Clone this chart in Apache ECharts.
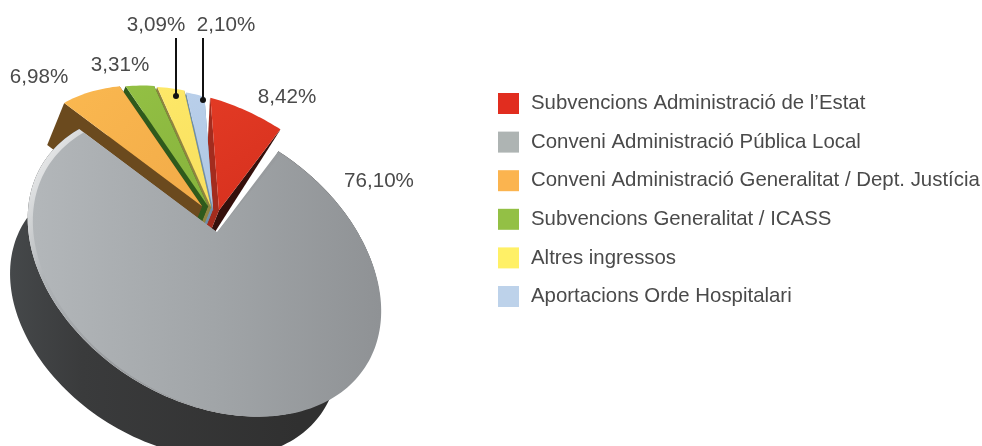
<!DOCTYPE html>
<html><head><meta charset="utf-8">
<style>html,body{margin:0;padding:0;background:#fff}#c{width:982px;height:446px}</style>
<script src="https://cdn.jsdelivr.net/npm/echarts@6/dist/echarts.min.js"></script>
</head><body><div id="c"></div>
<script>
const categories = ['Subvencions Administració de l’Estat','Conveni Administració Pública Local','Conveni Administració Generalitat / Dept. Justícia','Subvencions Generalitat / ICASS','Altres ingressos','Aportacions Orde Hospitalari'];
const shares = [8.42, 76.10, 6.98, 3.31, 3.09, 2.10];

const legendColors = ['#e12d1f','#aeb4b3','#fbb44f','#93c045','#fff066','#bdd2ea'];
const topColors = [['#e23a24','#d6301e'],null,['#fab850','#f2ab48'],['#93c044','#86b23c'],['#fde868','#f8df5e'],['#b9cfea','#aec6e2']];
const edgeLeft = ['#a32c1e','#333','#6b4a1e','#2f5a1c','#8f8440','#6f8fa8'];
const edgeRight = ['#35100c','#333','#6b4a1e','#2f5a1c','#8f8440','#6f8fa8'];
const shift = [[9,6],[7,28],[-8,2],[-2,2],[1,3],[3,5]];
const rimDepth = [0.03,1,1,1,1,1];
const sideOrder = [0,5,4,3,2];
const labelAt = [[287,97],[379,181],[39,77],[120,65],[156,25],[226,25]];
const leaders = {4:[176,38,96],5:[203,38,100]};

const C=[197,236], A=190, B=135, ROT=32*Math.PI/180, P=[-0.03,-0.25], START=-117, E=[-17,42], E_GREY=[-30,52], S_GREY=0.93;
const U=[Math.cos(ROT),Math.sin(ROT)], V=[-Math.sin(ROT),Math.cos(ROT)];
const FONT='"Liberation Sans", Arial, sans-serif';
function project(deg,r){
  const t=deg*Math.PI/180, x=r*Math.cos(t), y=r*Math.sin(t);
  const pp=P[0]*P[0]+P[1]*P[1], dot=P[0]*x+P[1]*y, s=Math.sqrt(1-pp);
  const parx=P[0]*dot/pp, pary=P[1]*dot/pp;
  const nx=(P[0]+parx+s*(x-parx))/(1+dot), ny=(P[1]+pary+s*(y-pary))/(1+dot);
  return [C[0]+A*nx*U[0]+B*ny*V[0], C[1]+A*nx*U[1]+B*ny*V[1]];
}
const cum=[]; shares.reduce((s,v,i)=>{cum[i]=s;return s+v;},0);
const total=shares.reduce((a,b)=>a+b,0);
function fmt(v){return v.toFixed(2).replace('.',',')+'%';}

function geometry(i,v){
  const a0=START+cum[i]/total*360, a1=a0+v/total*360, sh=shift[i];
  const rim=[]; const n=Math.max(6,Math.ceil((a1-a0)/1.5));
  for(let k=0;k<=n;k++){const p=project(a0+(a1-a0)*k/n,1);rim.push([p[0]+sh[0],p[1]+sh[1]]);}
  const ap0=project(0,0);
  return {rim,apex:[ap0[0]+sh[0],ap0[1]+sh[1]],sh};
}
const poly=(points,fill,style)=>({type:'polygon',shape:{points},style:Object.assign({fill},style||{})});

// side walls of the back wedges: drawn below every top face, orange wall last
function renderSide(params,api){
  const i=sideOrder[params.dataIndex], {rim,apex}=geometry(i,api.value(0));
  const d=rimDepth[i], down=(p,m)=>[p[0]+E[0]*m,p[1]+E[1]*m];
  const first=rim[0], last=rim[rim.length-1];
  return {type:'group',children:[
    poly([apex,last,down(last,d),down(apex,1)],edgeRight[i]),
    poly([apex,first,down(first,d),down(apex,1)],edgeLeft[i]),
  ]};
}
function renderer(i){
  return function(params,api){
    const v=api.value(0), {rim,apex,sh}=geometry(i,v), kids=[];
    if(i===1){
      const g={type:'linear',x:10,y:0,x2:300,y2:0,global:true,colorStops:[{offset:0,color:'#45484a'},{offset:.25,color:'#3a3b3c'},{offset:1,color:'#303030'}]};
      const cx=C[0]+sh[0], cy=C[1]+sh[1];
      const low=rim.map(p=>[cx+(p[0]-cx)*S_GREY+E_GREY[0],cy+(p[1]-cy)*S_GREY+E_GREY[1]]);
      kids.push(poly(rim.concat(low.reverse()),g));
      const top=rim.concat([apex]);
      const hi={type:'linear',x:30,y:120,x2:300,y2:300,global:true,colorStops:[{offset:0,color:'#ffffff'},{offset:.3,color:'#b0b4b7'},{offset:.6,color:'#9a9da0'},{offset:1,color:'#94979a'}]};
      kids.push(poly(top,hi));
      const inset=top.map(p=>[p[0]+(cx-p[0])*0.012+3,p[1]+(cy-p[1])*0.012+2]);
      inset[inset.length-1]=apex;
      const body={type:'linear',x:30,y:0,x2:380,y2:0,global:true,colorStops:[{offset:0,color:'#b3b7ba'},{offset:.55,color:'#a0a4a7'},{offset:1,color:'#8f9295'}]};
      kids.push(poly(inset,body));
    } else {
      kids.push(poly([apex].concat(rim),{type:'linear',x:0,y:0,x2:1,y2:1,colorStops:[{offset:0,color:topColors[i][0]},{offset:1,color:topColors[i][1]}]}));
    }
    kids.push({type:'text',style:{text:fmt(v),x:labelAt[i][0],y:labelAt[i][1],align:'center',verticalAlign:'middle',fill:'#4a4a4a',font:'20.6px '+FONT}});
    const L=leaders[i];
    if(L){
      kids.push({type:'line',shape:{x1:L[0],y1:L[1],x2:L[0],y2:L[2]},style:{stroke:'#111',lineWidth:2}});
      kids.push({type:'circle',shape:{cx:L[0],cy:L[2],r:3},style:{fill:'#111'}});
    }
    return {type:'group',children:kids};
  };
}

const chart=echarts.init(document.getElementById('c'),null,{renderer:'canvas',width:982,height:446});
chart.setOption({
  animation:false,
  backgroundColor:'#fff',
  color:legendColors,
  legend:{
    data:categories, orient:'vertical', left:498, top:93, itemWidth:21, itemHeight:21, itemGap:17.6,
    icon:'rect', selectedMode:false, padding:0,
    textStyle:{fontFamily:FONT,fontSize:20.4,lineHeight:16,color:'#4a4a4a',padding:[4,0,0,7]},
  },
  series:[{
    type:'custom', name:'sides', coordinateSystem:'none', silent:true, z:1,
    renderItem:renderSide, data:sideOrder.map(i=>[shares[i]]),
  }].concat(categories.map((name,i)=>({
    type:'custom', name, coordinateSystem:'none', silent:true, z:i===1?4:3,
    itemStyle:{color:legendColors[i]},
    renderItem:renderer(i),
    data:[[shares[i]]],
  }))),
});
</script></body></html>
